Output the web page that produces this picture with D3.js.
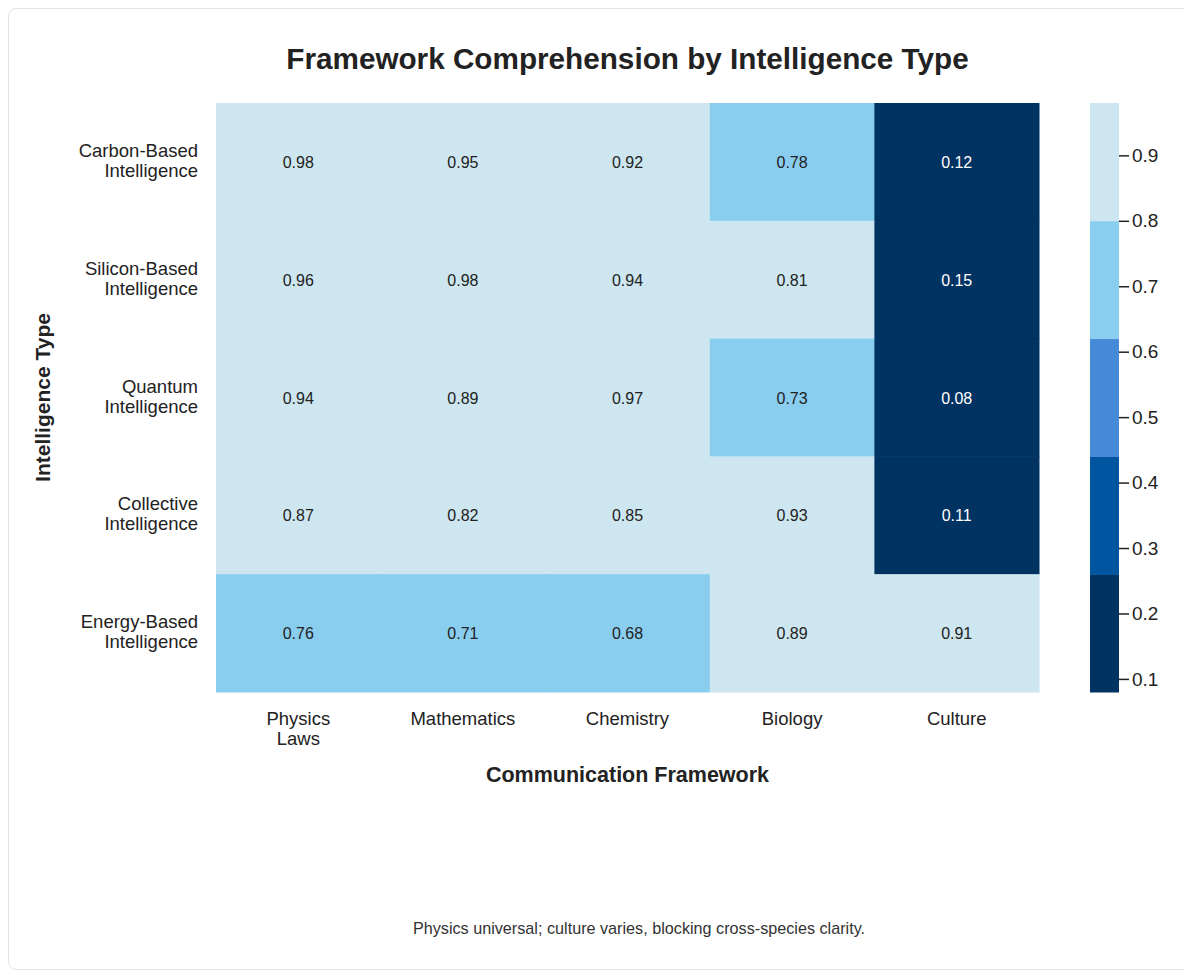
<!DOCTYPE html>
<html>
<head>
<meta charset="utf-8">
<style>
  body { margin: 0; background: #fff; font-family: "Liberation Sans", Arial, sans-serif; }
  svg text { fill: #222; }
</style>
</head>
<body>
<div id="chart"></div>
<script src="https://d3js.org/d3.v7.min.js"></script>
<script>
// data
var frameworks = ["Physics Laws", "Mathematics", "Chemistry", "Biology", "Culture"];
var intelligences = ["Carbon-Based Intelligence", "Silicon-Based Intelligence", "Quantum Intelligence",
                     "Collective Intelligence", "Energy-Based Intelligence"];
var scores = [
  [0.98, 0.95, 0.92, 0.78, 0.12],
  [0.96, 0.98, 0.94, 0.81, 0.15],
  [0.94, 0.89, 0.97, 0.73, 0.08],
  [0.87, 0.82, 0.85, 0.93, 0.11],
  [0.76, 0.71, 0.68, 0.89, 0.91]
];
var colorbarTicks = [0.1, 0.2, 0.3, 0.4, 0.5, 0.6, 0.7, 0.8, 0.9];
var bandColors = ["#003262", "#0055a0", "#4689d6", "#89cdef", "#cde6f0"];

var W = 1184, H = 972;
var pLeft = 216, pRight = 1039, pTop = 103, pBottom = 692;

var svg = d3.select("#chart").append("svg")
  .attr("width", W).attr("height", H);

// card
svg.append("rect")
  .attr("x", 8.5).attr("y", 8.5)
  .attr("width", 1300).attr("height", 961)
  .attr("rx", 8)
  .attr("fill", "#fff")
  .attr("stroke", "#e2e2e2");

var cells = [];
scores.forEach(function(row, i) {
  row.forEach(function(v, j) {
    cells.push({ row: intelligences[i], col: frameworks[j], value: v });
  });
});

var x = d3.scaleBand().domain(frameworks).range([pLeft, pRight]);
var y = d3.scaleBand().domain(intelligences).range([pTop, pBottom]);
var ext = d3.extent(cells, function(d) { return d.value; });
var color = d3.scaleQuantize().domain(ext).range(bandColors);

svg.append("g").selectAll("rect")
  .data(cells)
  .enter().append("rect")
    .attr("x", function(d) { return x(d.col); })
    .attr("y", function(d) { return y(d.row); })
    .attr("width", x.bandwidth() + 0.5)
    .attr("height", y.bandwidth() + 0.5)
    .attr("fill", function(d) { return color(d.value); });

svg.append("g").selectAll("text")
  .data(cells)
  .enter().append("text")
    .attr("x", function(d) { return x(d.col) + x.bandwidth() / 2; })
    .attr("y", function(d) { return y(d.row) + y.bandwidth() / 2 + 6; })
    .attr("text-anchor", "middle")
    .attr("font-size", "16px")
    .style("fill", function(d) { return d.value < 0.44 ? "#fff" : "#222"; })
    .text(function(d) { return d.value.toFixed(2); });

// wrap two-word labels onto two lines
function twoLines(sel, label, lineH) {
  var parts = label.split(" ");
  var lines = parts.length > 1 ? [parts.slice(0, -1).join(" "), parts[parts.length - 1]] : [label];
  lines.forEach(function(l, k) {
    sel.append("tspan").attr("x", sel.attr("x")).attr("dy", k === 0 ? 0 : lineH).text(l);
  });
}

// y tick labels
intelligences.forEach(function(name) {
  var t = svg.append("text")
    .attr("x", 198)
    .attr("y", y(name) + y.bandwidth() / 2 - 5)
    .attr("text-anchor", "end")
    .attr("font-size", "18.5px");
  twoLines(t, name, 20);
});

// x tick labels
frameworks.forEach(function(name) {
  var t = svg.append("text")
    .attr("x", x(name) + x.bandwidth() / 2)
    .attr("y", 725)
    .attr("text-anchor", "middle")
    .attr("font-size", "18.5px");
  twoLines(t, name, 20);
});

// titles
svg.append("text")
  .attr("x", (pLeft + pRight) / 2).attr("y", 69)
  .attr("text-anchor", "middle")
  .attr("font-size", "29.7px").attr("font-weight", "bold")
  .text("Framework Comprehension by Intelligence Type");

svg.append("text")
  .attr("x", (pLeft + pRight) / 2).attr("y", 782)
  .attr("text-anchor", "middle")
  .attr("font-size", "21.5px").attr("font-weight", "bold")
  .text("Communication Framework");

svg.append("text")
  .attr("transform", "translate(50," + ((pTop + pBottom) / 2) + ") rotate(-90)")
  .attr("text-anchor", "middle")
  .attr("font-size", "21px").attr("font-weight", "bold")
  .text("Intelligence Type");

svg.append("text")
  .attr("x", 639).attr("y", 934)
  .attr("text-anchor", "middle")
  .attr("font-size", "16.2px")
  .style("fill", "#333")
  .text("Physics universal; culture varies, blocking cross-species clarity.");

// colorbar
var cb = d3.scaleLinear().domain(ext).range([pBottom, pTop]);
var cbX = 1090, cbW = 29;
var bands = bandColors.map(function(c) {
  var r = color.invertExtent(c);
  return { c: c, lo: r[0], hi: r[1] };
});
svg.append("g").selectAll("rect")
  .data(bands)
  .enter().append("rect")
    .attr("x", cbX)
    .attr("y", function(d) { return cb(d.hi); })
    .attr("width", cbW)
    .attr("height", function(d) { return cb(d.lo) - cb(d.hi) + 0.5; })
    .attr("fill", function(d) { return d.c; });

var cbAxis = svg.append("g")
  .attr("transform", "translate(" + (cbX + cbW) + ",0)")
  .call(d3.axisRight(cb).tickValues(colorbarTicks).tickSize(10).tickPadding(3).tickFormat(d3.format(".1f")));
cbAxis.select(".domain").remove();
cbAxis.selectAll("line").attr("stroke", "#222").attr("stroke-width", 1.5);
cbAxis.selectAll("text").attr("font-size", "19px").attr("font-family", "Liberation Sans, Arial, sans-serif").style("fill", "#222");
</script>
</body>
</html>
